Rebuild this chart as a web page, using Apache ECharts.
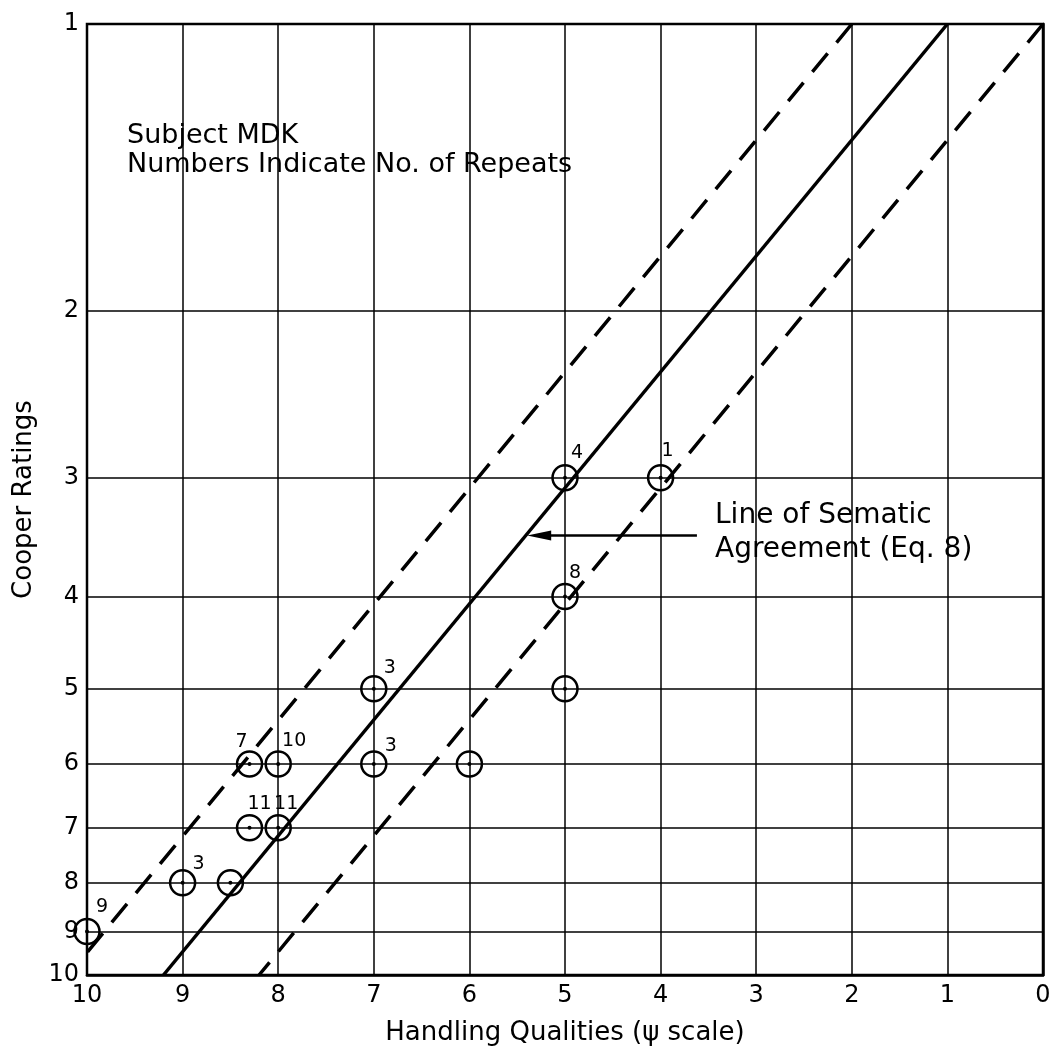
<!DOCTYPE html>
<html>
<head>
<meta charset="utf-8">
<title>Cooper Ratings vs Handling Qualities</title>
<script src="https://cdn.jsdelivr.net/npm/echarts@6/dist/echarts.min.js"></script>
<style>
    html, body { margin: 0; padding: 0; background: #fff; }
    #main { width: 1056px; height: 1055px; }
</style>
</head>
<body>
<div id="main"></div>
<script>
"use strict";
// axis ticks
var hqTicks = [0, 1, 2, 3, 4, 5, 6, 7, 8, 9, 10];
var cooperTicks = [1, 2, 3, 4, 5, 6, 7, 8, 9, 10];

// subject MDK ratings (psi scale vs Cooper), with number of repeats
var pointHQ     = [10, 9, 8.5, 8.3, 8, 8.3, 8, 7, 7, 6, 5, 5, 5, 4];
var pointCooper = [9, 8, 8, 7, 7, 6, 6, 6, 5, 6, 5, 4, 3, 3];
var repeats     = ['9', '3', '', '11', '11', '7', '10', '3', '3', '', '', '8', '4', '1'];
// label nudges (px) for the repeat counts
var labelShift  = [[15, -1], [16, 4], [0, 0], [10, 0], [8, 0], [-8, 1], [16, 0], [17, 5], [16, 3], [0, 0], [0, 0], [10, 0], [12, -1], [7, -3]];

// line of semantic agreement (Eq. 8) and the two dashed bounds
var agreeHQ = [1, 9.2],  agreeCooper = [1, 10];
var upperHQ = [2, 10],   upperCooper = [1, 9.47];
var lowerHQ = [0, 8.2],  lowerCooper = [1, 10];
// arrow pointing at the agreement line
var arrowHQ = [3.62, 5.27], arrowCooper = 3.45;

var FONT = 'DejaVu Sans';

function pairs(xs, ys) {
    return xs.map(function (x, i) { return [x, ys[i]]; });
}

var chart = echarts.init(document.getElementById('main'));

var pointData = pointHQ.map(function (x, i) {
    return {
        value: [x, pointCooper[i]],
        name: repeats[i],
        label: { show: repeats[i] !== '', offset: labelShift[i] }
    };
});

var option = {
    backgroundColor: '#fff',
    animation: false,
    grid: {
        left: 87, right: 13, top: 24, bottom: 80,
        show: true, borderColor: '#000', borderWidth: 2.5,
        backgroundColor: 'transparent'
    },
    xAxis: {
        type: 'value', min: 0, max: 10, interval: 1, inverse: true,
        name: 'Handling Qualities (\u03c8 scale)',
        nameLocation: 'middle', nameGap: 45,
        nameTextStyle: { fontSize: 26, color: '#000', fontFamily: FONT },
        axisLine: { show: true, lineStyle: { color: '#000', width: 2.5 } },
        axisTick: { show: false },
        axisLabel: { fontSize: 24, color: '#000', fontFamily: FONT, margin: 9 },
        splitLine: { show: true, lineStyle: { color: '#000', width: 1.5 } }
    },
    yAxis: {
        type: 'log', logBase: 10, min: 1, max: 10, inverse: true,
        name: 'Cooper Ratings',
        nameLocation: 'middle', nameGap: 43,
        nameTextStyle: { fontSize: 26, color: '#000', fontFamily: FONT },
        axisLine: { show: true, lineStyle: { color: '#000', width: 2.5 } },
        axisTick: { show: false, customValues: cooperTicks },
        axisLabel: { customValues: cooperTicks, fontSize: 24, color: '#000', fontFamily: FONT, margin: 8 },
        splitLine: { show: true, lineStyle: { color: '#000', width: 1.5 } }
    },
    graphic: [
        { type: 'text', left: 127, top: 122, style: { text: 'Subject MDK', fontSize: 27, fontFamily: FONT, fill: '#000' } },
        { type: 'text', left: 127, top: 151, style: { text: 'Numbers Indicate No. of Repeats', fontSize: 27, fontFamily: FONT, fill: '#000' } },
        { type: 'text', left: 715, top: 502, style: { text: 'Line of Sematic', fontSize: 28, fontFamily: FONT, fill: '#000' } },
        { type: 'text', left: 715, top: 536, style: { text: 'Agreement (Eq. 8)', fontSize: 28, fontFamily: FONT, fill: '#000' } }
    ],
    series: [
        {
            name: 'agreement', type: 'line', data: pairs(agreeHQ, agreeCooper),
            showSymbol: false, silent: true,
            lineStyle: { color: '#000', width: 3.5 },
            markLine: {
                silent: true, animation: false,
                symbol: ['none', 'path://M5,0 L10,24 L0,24 Z'],
                symbolSize: 24, symbolKeepAspect: true,
                label: { show: false },
                lineStyle: { color: '#000', width: 2.5, type: 'solid' },
                itemStyle: { color: '#000' },
                data: [[{ coord: [arrowHQ[0], arrowCooper] }, { coord: [arrowHQ[1], arrowCooper] }]]
            }
        },
        {
            name: 'upper', type: 'line', data: pairs(upperHQ, upperCooper),
            showSymbol: false, silent: true,
            lineStyle: { color: '#000', width: 3.5, type: [24, 14] }
        },
        {
            name: 'lower', type: 'line', data: pairs(lowerHQ, lowerCooper),
            showSymbol: false, silent: true,
            lineStyle: { color: '#000', width: 3.5, type: [24, 14] }
        },
        {
            name: 'ratings', type: 'scatter', data: pointData,
            symbol: 'circle', symbolSize: 25,
            itemStyle: { color: 'rgba(255,255,255,0)', borderColor: '#000', borderWidth: 2.5, opacity: 1 },
            label: {
                show: true, position: 'top', distance: 0,
                formatter: '{b}', fontSize: 19, color: '#000', fontFamily: FONT
            },
            z: 5
        },
        {
            name: 'centres', type: 'scatter', data: pairs(pointHQ, pointCooper),
            symbolSize: 4, itemStyle: { color: '#000', opacity: 1 }, silent: true, z: 6
        }
    ]
};
chart.setOption(option);
</script>
</body>
</html>
